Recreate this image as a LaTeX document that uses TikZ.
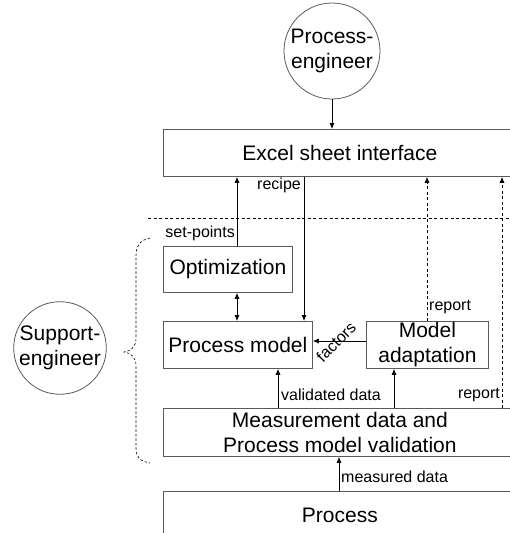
\documentclass[tikz,border=0pt]{standalone}
\usepackage{fontspec}
\setmainfont{Liberation Sans}
\usetikzlibrary{arrows.meta}
\definecolor{boxgray}{HTML}{5A5A5A}
\begin{document}
\begin{tikzpicture}[x=1pt,y=-1pt,
  box/.style={draw=boxgray, line width=0.8pt, inner sep=0pt, font=\fontsize{21}{25}\selectfont, align=center, anchor=north west},
  circ/.style={draw=boxgray, line width=0.8pt, circle, inner sep=0pt, font=\fontsize{21}{25}\selectfont, align=center},
  lbl/.style={inner sep=1pt, font=\fontsize{16}{18}\selectfont},
  arr/.style={line width=0.8pt, -{Latex[length=6pt,width=5pt]}},
  dbl/.style={line width=0.8pt, {Latex[length=6pt,width=5pt]}-{Latex[length=6pt,width=5pt]}},
  dsh/.style={line width=0.8pt, dash pattern=on 3pt off 2.5pt},
  darr/.style={dsh, -{Latex[length=6pt,width=5pt]}}]
\clip (0,0) rectangle (510,533);
\fill[white] (0,0) rectangle (510,533);
% x positions of connectors
\path (237,0) coordinate (xa) (304,0) coordinate (xr) (278,0) coordinate (xv)
      (394,0) coordinate (xm) (427,0) coordinate (xd1) (502,0) coordinate (xd2)
      (339,0) coordinate (xmd) (0,341) coordinate (yf);
% nodes
\node[circ, minimum size=96] (pe) at (332,51) {Process-\\engineer};
\node[circ, minimum size=90] (se) at (60,348) {Support-\\engineer};
\node[box, minimum width=353, minimum height=47] (excel) at (163,129) {Excel sheet interface};
\node[box, minimum width=129, minimum height=46] (opt) at (163,246) {Optimization};
\node[box, minimum width=149, minimum height=47] (pm) at (163,321) {Process model};
\node[box, minimum width=122, minimum height=47] (ma) at (366,321) {Model\\adaptation};
\node[box, minimum width=353, minimum height=48] (meas) at (163,408) {Measurement data and\\Process model validation};
\node[box, minimum width=353, minimum height=48] (proc) at (163,491) {Process};
% connectors
\draw[arr] (pe) -- (excel.north -| pe);
\draw[arr] (opt.north -| xa) -- (excel.south -| xa);
\draw[arr] (excel.south -| xr) -- (pm.north -| xr);
\draw[dbl] (opt.south -| xa) -- (pm.north -| xa);
\draw[arr] (ma.west |- yf) -- (pm.east |- yf);
\draw[arr] (meas.north -| xv) -- (pm.south -| xv);
\draw[arr] (meas.north -| xm) -- (ma.south -| xm);
\draw[darr] (ma.north -| xd1) -- (excel.south -| xd1);
\draw[darr] (meas.north -| xd2) -- (excel.south -| xd2);
\draw[arr] (proc.north -| xmd) -- (meas.south -| xmd);
% labels
\node[lbl, anchor=east] (lsp) at (236,233) {set-points};
\node[lbl, anchor=east] (lrc) at (302,185) {recipe};
\node[lbl, anchor=west] (lr1) at (428,307) {report};
\node[lbl, anchor=east] (lr2) at (501,395) {report};
\node[lbl, anchor=west] (lvd) at (280,395) {validated data};
\node[lbl, anchor=west] (lmd) at (340,477) {measured data};
\node[lbl, rotate=45] (lf) at (336,342) {factors};
% separator and brace
\draw[dsh] (148,218) -- (510,218);
\draw[line width=0.6pt, dash pattern=on 2.5pt off 2pt]
  (150,238) .. controls (140,240) and (136,246) .. (136,256)
  -- (136,338) .. controls (136,347) and (131,351) .. (124,352)
  .. controls (131,353) and (136,357) .. (136,366)
  -- (136,448) .. controls (136,458) and (140,461) .. (150,463);
\end{tikzpicture}
\end{document}
